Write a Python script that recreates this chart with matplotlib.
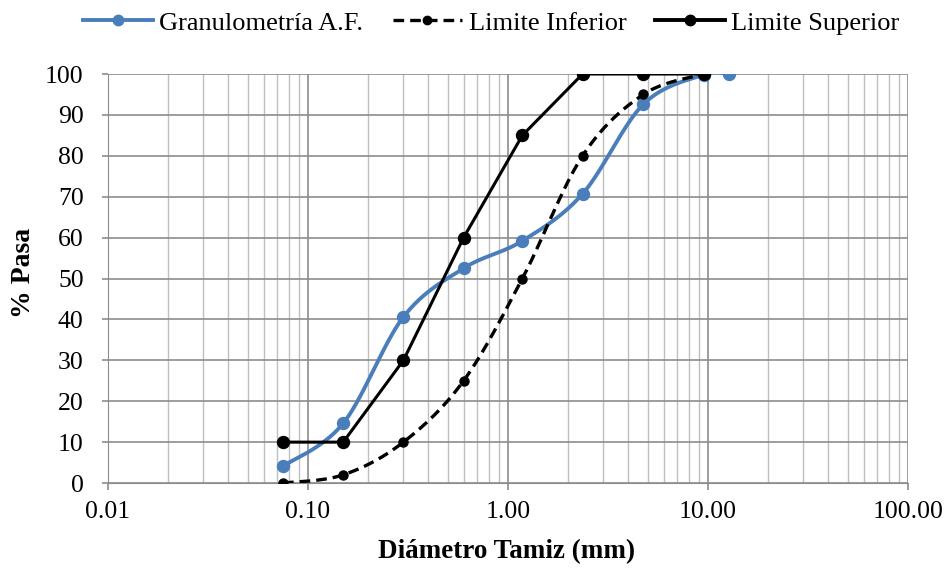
import numpy as np
import matplotlib
matplotlib.use("Agg")
import matplotlib.pyplot as plt
from matplotlib.ticker import FixedLocator, LogLocator, NullFormatter

plt.rcParams['font.family'] = ['Liberation Serif', 'DejaVu Serif']

# Sieve sizes (mm) and percent passing
granulo_x = [0.075, 0.15, 0.30, 0.60, 1.18, 2.36, 4.75, 9.50, 12.70]
granulo_y = [4.1, 14.6, 40.6, 52.5, 59.2, 70.7, 92.6, 99.8, 100.0]

inf_x = [0.075, 0.15, 0.30, 0.60, 1.18, 2.36, 4.75, 9.50]
inf_y = [0, 2, 10, 25, 50, 80, 95, 100]

sup_x = [0.075, 0.15, 0.30, 0.60, 1.18, 2.36, 4.75, 9.50]
sup_y = [10, 10, 30, 60, 85, 100, 100, 100]

x_ticks = [0.01, 0.1, 1, 10, 100]
x_tick_labels = ["0.01", "0.10", "1.00", "10.00", "100.00"]
y_ticks = list(range(0, 101, 10))


def smooth(xs, ys, n=40):
    """Cardinal (Catmull-Rom) spline through the points in log-x space."""
    u = np.log10(np.asarray(xs, float))
    v = np.asarray(ys, float)
    pts = np.column_stack([u, v])
    out = [pts[0]]
    for i in range(len(pts) - 1):
        p0 = pts[i - 1] if i > 0 else pts[i]
        p1, p2 = pts[i], pts[i + 1]
        p3 = pts[i + 2] if i + 2 < len(pts) else pts[i + 1]
        c1 = p1 + (p2 - p0) / 6.0
        c2 = p2 - (p3 - p1) / 6.0
        t = np.linspace(0, 1, n)[1:, None]
        seg = ((1 - t) ** 3) * p1 + 3 * ((1 - t) ** 2) * t * c1 + 3 * (1 - t) * t ** 2 * c2 + t ** 3 * p2
        out.extend(seg)
    out = np.array(out)
    return 10 ** out[:, 0], out[:, 1]


fig = plt.figure(figsize=(9.48, 5.68), dpi=100)
ax = fig.add_axes([0.1139, 0.1496, 0.8439, 0.7201])

blue = '#4A7EBB'
dash = (0, (3.2, 1.8))

gx, gy = smooth(granulo_x, granulo_y)
ax.plot(gx, gy, color=blue, lw=2.8, zorder=3)
ax.plot(granulo_x, granulo_y, 'o', color=blue, ms=8.6, zorder=3)
ax.plot([], [], '-o', color=blue, lw=2.8, ms=7.5, label='Granulometría A.F.')

ix, iy = smooth(inf_x, inf_y)
ax.plot(ix, iy, color='black', lw=2.4, ls=dash, zorder=4)
ax.plot(inf_x, inf_y, 'o', color='black', ms=6.5, zorder=4)
ax.plot([], [], ls=dash, marker='o', color='black', lw=2.4, ms=6, label='Limite Inferior')

ax.plot(sup_x, sup_y, '-o', color='black', lw=2.2, ms=8.6, zorder=5)
ax.plot([], [], '-o', color='black', lw=2.8, ms=7.5, label='Limite Superior')

ax.set_xscale('log')
ax.set_xlim(0.01, 100)
ax.set_ylim(0, 100)
ax.xaxis.set_major_locator(FixedLocator(x_ticks))
ax.set_xticklabels(x_tick_labels)
ax.xaxis.set_minor_locator(LogLocator(base=10, subs=np.arange(2, 10)))
ax.xaxis.set_minor_formatter(NullFormatter())
ax.set_yticks(y_ticks)

ax.grid(which='major', axis='x', color='#8C8C8C', lw=1.2)
ax.grid(which='minor', axis='x', color='#BFBFBF', lw=1.0)
ax.grid(which='major', axis='y', color='#8C8C8C', lw=1.2)
ax.set_axisbelow(True)

for s in ax.spines.values():
    s.set_visible(False)
ax.spines['left'].set_visible(True)
ax.spines['left'].set_color('#8C8C8C')
ax.spines['bottom'].set_visible(True)
ax.spines['bottom'].set_color('#8C8C8C')

ax.tick_params(which='minor', length=0)
ax.tick_params(axis='y', which='major', length=4.5, width=1.2, color='#8C8C8C',
               direction='out', labelsize=18.5, pad=13)
ax.tick_params(axis='x', which='major', length=5, width=1.2, color='#8C8C8C',
               direction='out', labelsize=18.5, pad=8)

ax.set_xlabel('Diámetro Tamiz (mm)', fontsize=19.5, fontweight='bold')
ax.xaxis.label.set_va('center')
ax.xaxis.set_label_coords(507 / 948, 1 - 552 / 568, transform=fig.transFigure)
ax.set_ylabel('% Pasa', fontsize=20, fontweight='bold')
ax.yaxis.label.set_va('center')
ax.yaxis.set_label_coords(24 / 948, 1 - 273 / 568, transform=fig.transFigure)

fig.legend(loc='center', bbox_to_anchor=(491.5 / 948, 1 - 23 / 568), ncol=3, frameon=False,
           fontsize=19, handlelength=2.65, columnspacing=1.1, handletextpad=0.23,
           borderaxespad=0, borderpad=0)

fig.savefig('out.png', dpi=100)
